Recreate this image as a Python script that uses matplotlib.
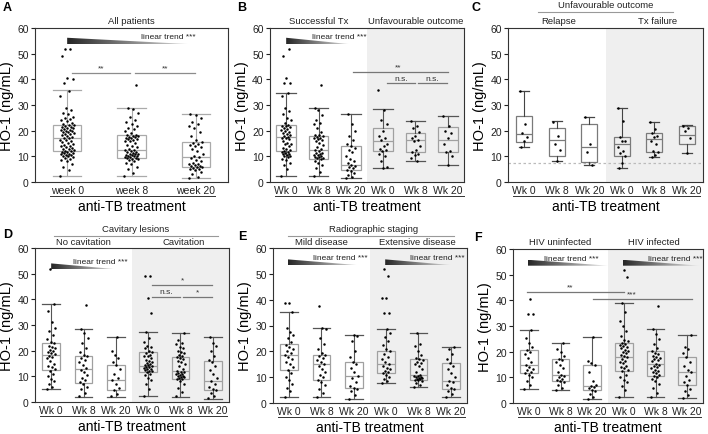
import numpy as np
import matplotlib
matplotlib.use('Agg')
import matplotlib.pyplot as plt
from matplotlib.patches import Polygon
from matplotlib.colors import LinearSegmentedColormap
from matplotlib.transforms import offset_copy

plt.rcParams['font.family'] = ['Liberation Sans', 'DejaVu Sans']
NARROW = ['Liberation Sans Narrow', 'Liberation Sans', 'DejaVu Sans']

# ---------------------------------------------------------------- data ----
wk3 = ['week 0', 'week 8', 'week 20']
wk6 = ['Wk 0', 'Wk 8', 'Wk 20', 'Wk 0', 'Wk 8', 'Wk 20']

# box stats per group: (median, q1, q3, whisker low, whisker high)
a_box = [(17.3, 11.9, 22.4, 2.5, 36.0), (12.6, 9.2, 18.4, 2.2, 29.0),
         (9.6, 5.7, 15.4, 1.5, 26.3)]
a_pts = [
    [2.5, 4.5, 6, 7, 8, 8.5, 9, 9.5, 9.8, 10, 10.2, 10.5, 10.6, 10.8, 11, 11.2,
     11.4, 11.5, 11.8, 12, 12.2, 12.5, 12.8, 13, 13.2, 13.5, 14, 14.2, 14.5, 15,
     15.2, 15.5, 16, 16.2, 16.5, 17, 17.3, 17.6, 17.8, 18.3, 18.6, 18.8, 19, 19.3,
     19.6, 19.8, 20, 20.2, 20.4, 20.7, 21, 21.1, 21.3, 21.5, 22, 22.2, 22.4, 22.6,
     23, 23.8, 24, 24.5, 25, 25.5, 26.5, 27, 28, 29, 33.5, 35.5, 38.5, 40, 40.5,
     49, 52, 52],
    [2.2, 3.5, 5, 6, 7, 7.5, 8, 8.5, 8.8, 9, 9.2, 9.5, 9.6, 9.8, 10, 10.1, 10.2,
     10.5, 10.6, 10.8, 11, 11.1, 11.3, 11.6, 11.8, 12, 12.3, 12.6, 13, 13.5, 14,
     14.6, 15.2, 15.8, 16, 16.3, 16.6, 16.8, 17, 17.2, 17.4, 17.6, 17.8, 18, 18.2,
     18.4, 19, 20, 20.5, 21, 22, 22.5, 23.5, 24, 25.5, 27, 28.5, 29, 37.7],
    [1.5, 2, 3, 3.8, 4.5, 5, 5.2, 5.5, 5.8, 6, 6.2, 6.4, 6.6, 7, 7.2, 7.5, 8,
     8.6, 9.2, 9.6, 10.2, 11, 12, 13, 13.8, 14, 14.5, 15, 15.2, 15.4, 16.5, 18,
     19.5, 21, 22, 22.5, 23.5, 25, 26, 26.3],
]

b_box = [(17.6, 11.9, 22.2, 2.5, 34.5), (12.4, 8.9, 18.0, 2.2, 29.0),
         (6.7, 4.8, 14.1, 1.5, 26.3), (16.0, 11.9, 20.9, 5.3, 28.6),
         (16.3, 11.8, 18.9, 8.2, 23.7), (16.3, 11.8, 21.5, 6.6, 25.8)]
b_pts = [
    [2.5, 5, 6.5, 7.5, 8.5, 9, 9.8, 10, 10.3, 10.6, 10.8, 11, 11.3, 11.6, 11.8,
     12, 12.3, 12.8, 13.4, 14, 14.7, 15, 15.3, 16, 16.6, 17, 17.2, 17.6, 18, 18.2,
     18.8, 19, 19.4, 20, 20.3, 20.6, 21.2, 21.5, 21.8, 22, 22.2, 23, 24, 25, 26.3,
     27.5, 29, 33.5, 34.5, 38.5, 38.5, 40.5, 49, 52],
    [2.2, 4, 5.5, 6.5, 7.5, 8.2, 8.9, 9.2, 9.4, 9.7, 9.9, 10.2, 10.4, 10.7, 10.9,
     11.2, 11.4, 12, 12.4, 13, 13.7, 14.5, 15.3, 16, 16.3, 16.7, 17, 17.3, 17.6,
     17.8, 18.2, 18.5, 19.5, 21, 22.5, 23, 24, 26, 28, 29, 37.7],
    [1.5, 2, 2.8, 3.5, 4.2, 4.8, 5.3, 5.8, 6.3, 6.7, 7.3, 8, 9, 10, 11.5, 12.5,
     13.3, 14.1, 15, 16.5, 18, 20, 22.5, 26.3],
    [35.7, 28, 24, 22.5, 20, 18, 17, 16.5, 15, 14, 13, 12.5, 12, 11, 10, 8, 6, 5.3],
    [23.7, 22, 21, 19.5, 18, 17, 16.5, 16, 14, 12.5, 11.5, 11, 10.5, 9.5, 8.2],
    [25.8, 22, 20, 19, 17, 15, 12, 11.5, 10, 6.6],
]

c_box = [(18.7, 15.5, 25.8, 13.8, 35.6), (16.4, 10.1, 20.9, 8.0, 23.8),
         (13.5, 7.7, 22.6, 6.6, 25.5), (14.8, 10.1, 17.7, 5.3, 28.7),
         (16.8, 11.6, 19.2, 9.6, 23.2), (18.3, 14.7, 21.8, 11.4, 22.1)]
c_pts = [
    [35.6, 22.5, 19, 17.5, 16, 13.8],
    [23.5, 18, 15, 12.5, 8.2],
    [25.5, 14.8, 11.7, 6.6],
    [28.7, 23.8, 17.7, 16, 15.8, 13.5, 12.2, 11.3, 10.2, 7.5, 5.3],
    [23.2, 20.5, 19.2, 18, 17.5, 16, 15, 12, 11.5, 10.5, 9.8],
    [21.8, 21.2, 19.9, 17, 11.4],
]
c_cutoff = 7.4

d_box = [(18.4, 12.5, 23.0, 5.0, 38.0), (12.8, 7.5, 17.8, 2.0, 28.5),
         (8.5, 4.5, 14.5, 2.0, 25.5), (14.0, 11.5, 19.5, 2.2, 27.3),
         (12.0, 9.0, 17.5, 2.0, 26.8), (8.0, 4.8, 15.8, 1.3, 25.3)]
d_pts = [
    [5.2, 6, 7, 8, 9, 10, 11, 12, 13, 13.5, 14, 15, 16, 17, 17.5, 18, 18.8, 19,
     19.5, 20, 20.3, 21, 21.5, 22, 22.8, 23.5, 24.5, 26, 27.5, 29, 31, 35.5, 38, 52],
    [2.2, 3.5, 5, 6, 7, 7.8, 8.5, 9.5, 10.5, 11.5, 12.5, 13.4, 14.5, 15.5, 16.5,
     17.2, 18, 18.5, 19.5, 21, 23, 25, 27, 28.5, 37.7],
    [2.2, 3, 4.5, 5.5, 7, 8.5, 9.5, 11, 13, 14.5, 15.5, 17, 18.5, 20, 25.5],
    [2.5, 5, 7, 8.5, 9.5, 10.5, 11, 11.5, 12, 12.2, 12.5, 12.8, 13, 13.3, 13.5,
     13.8, 14, 14.3, 14.5, 15, 15.2, 15.5, 16, 16.2, 17, 17.8, 18, 18.5, 19.2,
     19.5, 20, 21, 21.5, 22, 23.5, 25, 27.3, 34.8, 40.5, 49, 49],
    [2.2, 4, 5.5, 7, 8, 8.8, 9.1, 9.3, 9.6, 9.8, 10.1, 10.3, 10.6, 10.8, 11.1,
     11.3, 11.6, 11.8, 12.2, 13, 14, 15, 15.5, 16, 16.8, 17, 17.5, 18, 18.3, 19,
     19.5, 20, 21, 21.5, 22.5, 23, 24, 26.8],
    [1.5, 2.5, 3.5, 4.5, 5.2, 6, 7, 8.2, 9.5, 11, 12.5, 14, 15.5, 16.5, 18, 20,
     22, 23, 25.3],
]

e_box = [(18.6, 12.9, 22.8, 2.3, 35.4), (15.2, 9.0, 18.7, 2.2, 29.0),
         (10.5, 6.0, 16.0, 1.5, 26.3), (15.2, 11.5, 20.0, 7.8, 28.7),
         (11.0, 9.0, 17.0, 6.2, 27.2), (8.6, 5.3, 15.3, 2.4, 21.8)]
e_pts = [
    [2.3, 4.5, 6, 7.5, 9, 10, 11.5, 12.9, 14, 15, 16, 17, 18, 18.6, 19.5, 20.2,
     21, 21.8, 22.5, 23.5, 25, 26.5, 27.5, 29, 35.4, 38.7, 38.7],
    [2.2, 4, 5.5, 7, 8, 9, 10, 11, 12, 13, 14.2, 15.2, 16, 16.8, 17.5, 18.2,
     18.7, 19.5, 21, 23, 25, 28.5, 29, 37.7],
    [1.5, 3, 4.5, 5.5, 6, 6.5, 8, 9.5, 10.5, 12, 13.5, 15, 16, 18, 20, 24, 26, 26.3],
    [7.8, 8.5, 9.2, 10, 10.8, 11.5, 12, 12.5, 13, 13.5, 14.2, 15.2, 16, 17, 18,
     19, 20, 21, 22.5, 24, 25.5, 27, 28.7, 34.8, 34.8, 40.5, 40.5, 49, 52],
    [6.2, 7, 7.8, 8.5, 8.8, 9, 9.2, 9.4, 9.6, 9.8, 10, 10.2, 10.4, 10.6, 11, 12,
     13, 14.5, 15, 15.5, 16, 16.5, 17, 17.5, 18.5, 20, 22, 23, 27.2],
    [2.4, 3.5, 4.5, 5.3, 6, 7, 8, 8.6, 10, 11.5, 13, 14.5, 15.3, 17, 19, 21, 21.8],
]

f_box = [(14.9, 11.7, 20.8, 5.5, 28.6), (10.8, 8.4, 17.1, 4.9, 23.4),
         (6.5, 5.2, 14.7, 1.7, 25.7), (17.8, 12.3, 23.4, 2.3, 39.0),
         (15.3, 10.4, 20.1, 2.3, 29.0), (11.9, 7.1, 17.8, 1.8, 26.5)]
f_pts = [
    [5.5, 7, 8.5, 10, 11, 11.7, 12.2, 12.7, 13.3, 14, 14.9, 16, 17.5, 19, 20,
     20.8, 22, 23.5, 25.5, 28.6, 34.8, 34.8, 40.5],
    [4.9, 6, 7, 8, 8.4, 9, 9.5, 10, 10.4, 10.8, 12, 13.5, 15, 16, 16.7, 17.1,
     18.5, 20, 21, 23.4],
    [1.7, 2.5, 3.5, 4.5, 5.2, 5.8, 6.2, 6.5, 7, 8.5, 12, 14.7, 15.5, 16.5, 25.7],
    [2.3, 5, 6.5, 8, 9, 10, 11, 12.3, 12.8, 13.5, 14, 14.5, 15.5, 16, 16.5, 17,
     17.8, 18.3, 18.8, 19.3, 19.8, 20.3, 20.8, 21.3, 21.8, 22.2, 22.6, 23, 23.4,
     24, 24.5, 26, 28, 30, 32, 35.5, 39, 49, 52],
    [2.3, 4, 6, 7.5, 8.5, 9.5, 10, 10.4, 11, 11.5, 12, 12.5, 13, 13.5, 14, 14.5,
     15, 15.3, 16.2, 16.6, 17, 17.5, 18, 18.5, 19, 19.5, 20.1, 21.5, 23, 25, 27,
     29, 37.7],
    [1.8, 3, 4.5, 5.5, 7.1, 8, 9, 10.5, 11.9, 13, 14.5, 16, 17.8, 19.5, 21, 22, 26.5],
]

# ---------------------------------------------------------------- figure --
W, H = 708, 435
fig = plt.figure(figsize=(W / 100, H / 100), dpi=100)
wedge_cmap = LinearSegmentedColormap.from_list('wedge', ['#262626', '#e6e6e6'])


def add_ax(x0, x1, y0, y1):
    # pixel box -> figure fraction
    return fig.add_axes([x0 / W, 1 - y1 / H, (x1 - x0) / W, (y1 - y0) / H])


def panel(rect, boxes, pts, labels, shaded, wbox, capw, box_col, wh_col, uline):
    ax = add_ax(*rect)
    n = len(boxes)
    pos = np.arange(1, n + 1)
    if shaded:
        ax.axvspan(3.5, 6.5, color='#efefef', lw=0, zorder=0)
    stats = [dict(med=b[0], q1=b[1], q3=b[2], whislo=b[3], whishi=b[4], fliers=[])
             for b in boxes]
    ax.bxp(stats, positions=pos, widths=wbox, showfliers=False, patch_artist=True,
           capwidths=capw, manage_ticks=False,
           boxprops=dict(facecolor='none', edgecolor=box_col, lw=0.9),
           medianprops=dict(color=box_col, lw=0.9),
           whiskerprops=dict(color=wh_col, lw=0.8),
           capprops=dict(color=wh_col, lw=0.9))
    for p, v in zip(pos, pts):
        v = np.asarray(v, dtype=float)
        jit = ((np.arange(len(v)) * 0.618034) % 1 - 0.5) * wbox * 0.5
        ax.scatter(p + jit, v, s=3.2, c='k', lw=0, zorder=4)
    ax.set_xlim(0.5, n + 0.5)
    ax.set_ylim(0, 60)
    ax.set_yticks(range(0, 61, 10))
    ax.set_xticks(pos, labels)
    ax.tick_params(axis='x', length=0, pad=2.5, labelsize=7.5, colors='#222')
    ax.tick_params(axis='y', length=3, width=0.8, pad=1.5, labelsize=7.5, colors='#222')
    for s in ax.spines.values():
        s.set_color('#333333')
        s.set_linewidth(0.8)
    ax.set_ylabel('HO-1 (ng/mL)', fontsize=10.5, labelpad=2)
    tr = offset_copy(ax.get_xaxis_transform(), fig=fig, y=-14, units='dots')
    ax.plot(uline, [0, 0], color='#333', lw=0.7, transform=tr, clip_on=False)
    tr = offset_copy(ax.transAxes, fig=fig, y=-24, units='dots')
    ax.text(0.5, 0, 'anti-TB treatment', transform=tr, ha='center', va='center',
            fontsize=10)
    return ax


def header(ax, x, txt, dy, size=6.8):
    tr = offset_copy(ax.get_xaxis_transform(), fig=fig, y=dy, units='dots')
    ax.text(x, 1, txt, transform=tr, ha='center', va='center', fontsize=size,
            family=NARROW, color='#222')


def header_line(ax, x0, x1, dy):
    tr = offset_copy(ax.get_xaxis_transform(), fig=fig, y=dy, units='dots')
    ax.plot([x0, x1], [1, 1], color='#999', lw=0.8, transform=tr, clip_on=False)


def trend(ax, x0, x1, yb, yt, tx, ty):
    grad = np.linspace(0, 1, 256).reshape(1, -1)
    im = ax.imshow(grad, extent=(x0, x1, yb, yt), aspect='auto', cmap=wedge_cmap,
                   interpolation='bilinear', zorder=3)
    tri = Polygon([(x0, yb), (x0, yt), (x1, yb)], closed=True, fc='none', ec='none')
    ax.add_patch(tri)
    im.set_clip_path(tri)
    ax.text(tx, ty, 'linear trend ***', ha='right', va='center', fontsize=6,
            family=NARROW, color='#222', zorder=5)


def sig(ax, x0, x1, y, txt, tx=None, col='#8c8c8c'):
    ax.plot([x0, x1], [y, y], color=col, lw=0.9, zorder=3)
    if tx is None:
        tx = (x0 + x1) / 2
    ax.text(tx, y + 0.6, txt, ha='center', va='bottom', fontsize=6, family=NARROW,
            color='#333', zorder=5)


def letter(x, y, s):
    fig.text(x / W, 1 - y / H, s, fontsize=9, fontweight='bold', ha='left', va='center')


# A
ax = panel((35, 228, 29, 183), a_box, a_pts, wk3, False, 0.44, 0.44,
           '#aaaaaa', '#aaaaaa', (0.73, 3.3))
ax.set_xlim(0.5, 3.5)
ax.set_ylim(0, 60)
header(ax, 2, 'All patients', 7)
trend(ax, 1.0, 3.0, 53.6, 56.2, 2.99, 56.6)
sig(ax, 1.07, 1.98, 42.4, '**')
sig(ax, 2.05, 2.99, 42.4, '**')
letter(3, 8, 'A')

# B
ax = panel((270, 464, 29, 183), b_box, b_pts, wk6, True, 0.6, 0.6,
           '#a0a0a0', '#555555', (0.65, 6.5))
header(ax, 2, 'Successful Tx', 7)
header(ax, 5, 'Unfavourable outcome', 7)
trend(ax, 1.0, 3.05, 53.6, 56.2, 3.5, 56.6)
sig(ax, 3.07, 6.0, 42.9, '**', tx=4.46, col='#777')
sig(ax, 4.12, 4.99, 38.5, 'n.s.', col='#777')
sig(ax, 5.08, 5.98, 38.5, 'n.s.', col='#777')
ax.set_xlim(0.5, 6.5)
ax.set_ylim(0, 60)
letter(237, 8, 'B')

# C
ax = panel((508, 703, 29, 183), c_box, c_pts, wk6, True, 0.5, 0.3,
           '#7a7a7a', '#444444', (0.65, 6.4))
ax.axhline(c_cutoff, color='#bbbbbb', lw=0.9, ls=(0, (2, 2)), zorder=1)
header(ax, 3.5, 'Unfavourable outcome', 23)
header_line(ax, 1.42, 5.58, 16)
header(ax, 2.07, 'Relapse', 7)
header(ax, 5.1, 'Tx failure', 7)
letter(472, 8, 'C')

# D
ax = panel((35, 229, 249, 403), d_box, d_pts, wk6, True, 0.54, 0.54,
           '#a0a0a0', '#555555', (0.65, 6.45))
header(ax, 3.6, 'Cavitary lesions', 19)
header_line(ax, 1.1, 6.15, 12)
header(ax, 2.0, 'No cavitation', 6)
header(ax, 5.1, 'Cavitation', 6)
trend(ax, 1.0, 3.05, 51.7, 54.0, 3.38, 54.8)
sig(ax, 4.12, 5.98, 45.5, '*', tx=5.05, col='#777')
sig(ax, 4.12, 4.99, 41.0, 'n.s.', col='#777')
sig(ax, 5.08, 5.98, 41.0, '*', col='#777')
ax.set_xlim(0.5, 6.5)
ax.set_ylim(0, 60)
letter(3, 235, 'D')

# E
ax = panel((273, 467, 249, 404), e_box, e_pts, wk6, True, 0.55, 0.55,
           '#a0a0a0', '#555555', (0.65, 6.45))
header(ax, 3.6, 'Radiographic staging', 19)
header_line(ax, 0.95, 6.1, 12)
header(ax, 2.0, 'Mild disease', 6)
header(ax, 4.95, 'Extensive disease', 6)
trend(ax, 0.96, 3.2, 53.3, 55.6, 3.44, 56.3)
trend(ax, 3.97, 6.1, 53.3, 55.6, 6.44, 56.3)
ax.set_xlim(0.5, 6.5)
ax.set_ylim(0, 60)
letter(238, 237, 'E')

# F
ax = panel((513, 703, 250, 404), f_box, f_pts, wk6, True, 0.55, 0.55,
           '#a0a0a0', '#555555', (0.65, 6.45))
header(ax, 2.0, 'HIV uninfected', 7)
header(ax, 4.95, 'HIV infected', 7)
trend(ax, 0.97, 3.5, 53.5, 55.8, 3.2, 56.4)
trend(ax, 3.97, 6.4, 53.5, 55.8, 6.5, 56.4)
sig(ax, 0.94, 4.0, 43.1, '**', tx=2.3, col='#777')
sig(ax, 3.02, 6.15, 40.5, '***', tx=4.25, col='#777')
ax.set_xlim(0.5, 6.5)
ax.set_ylim(0, 60)
letter(474, 238, 'F')

fig.savefig('out.png', dpi=100)
